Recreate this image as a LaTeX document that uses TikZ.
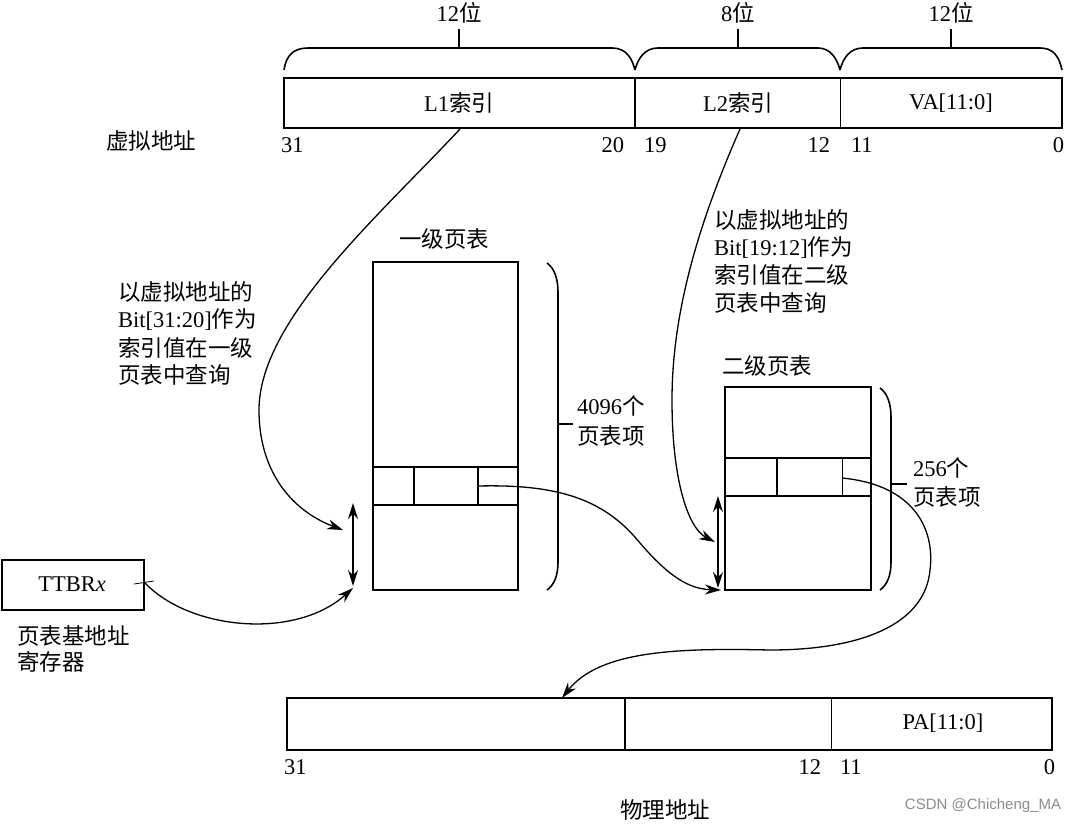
\documentclass[tikz,border=0pt]{standalone}
\usepackage{fontspec}
\setmainfont{Liberation Serif}
\newfontfamily\cjkfont{Noto Sans CJK SC}
\newfontfamily\wmfont{Liberation Sans}
\newcommand\zhtxt[1]{{\cjkfont #1}}
\usetikzlibrary{arrows.meta}
\begin{document}
\begin{tikzpicture}[x=1pt,y=-1pt,
  every node/.style={inner sep=0pt, outer sep=0pt, font=\fontsize{22.5}{27}\selectfont},
  box/.style={draw, line width=1.6pt, anchor=north west},
  ln/.style={line width=1.6pt},
  hair/.style={line width=0.8pt},
  conn/.style={line width=1.3pt, -{Stealth[length=16pt,width=10pt]}},
  dconn/.style={line width=1.3pt, {Stealth[length=16pt,width=10pt]}-{Stealth[length=16pt,width=10pt]}},
  lw/.style={anchor=west},
  le/.style={anchor=east}
]
\useasboundingbox (0,0) rectangle (1065,827);

% ---------- virtual address ----------
\node[box, minimum width=778pt, minimum height=50pt] (va) at (284,78) {};
\draw[ln] (635,78) -- (635,128);
\draw[hair] (840,78) -- (840,128);
\node (l1) at (459,103) {L1\zhtxt{索引}};
\node (l2) at (738,103) {L2\zhtxt{索引}};
\node (vaoff) at (951,103) {VA[11:0]};
\node[lw] (b31) at (281,145) {31};
\node[le] (b20) at (624,145) {20};
\node[lw] (b19) at (644,145) {19};
\node[le] (b12) at (830,145) {12};
\node[lw] (b11) at (851,145) {11};
\node[le] (b0) at (1064,145) {0};
\node (vlabel) at (151,141) {\zhtxt{虚拟地址}};

% braces
\draw[ln] (284,70) .. controls (286,56) and (293,48) .. (308,48) -- (612,48) .. controls (626,48) and (632,58) .. (635,70);
\draw[ln] (459,48) -- (459,29);
\draw[ln] (635,70) .. controls (638,58) and (645,48) .. (658,48) -- (818,48) .. controls (830,48) and (837,58) .. (840,70);
\draw[ln] (738,48) -- (738,29);
\draw[ln] (840,70) .. controls (843,58) and (850,48) .. (863,48) -- (1040,48) .. controls (1053,48) and (1059,56) .. (1062,70);
\draw[ln] (951,48) -- (951,29);
\node (w1) at (459,13) {12\zhtxt{位}};
\node (w2) at (738,13) {8\zhtxt{位}};
\node (w3) at (951,13) {12\zhtxt{位}};

% ---------- level 1 table ----------
\node (t1title) at (444,239) {\zhtxt{一级页表}};
\node[box, minimum width=145pt, minimum height=328pt] (t1) at (373,262) {};
\draw[ln] (373,467) -- (518,467);
\draw[ln] (373,505) -- (518,505);
\draw[ln] (414,467) -- (414,505);
\draw[ln] (478,467) -- (478,505);
\coordinate (e1) at (478,486);
\draw[ln] (547,263) .. controls (554,268) and (558,278) .. (558,292) -- (558,562) .. controls (558,576) and (554,585) .. (547,590);
\draw[ln] (558,424) -- (573,424);
\node[lw] (n4096) at (577,406) {4096\zhtxt{个}};
\node[lw] (n4096b) at (577,436) {\zhtxt{页表项}};
\coordinate (d1t) at (353,503);
\coordinate (d1b) at (353,586);
\draw[dconn] (d1t) -- (d1b);

% ---------- level 2 table ----------
\node (t2title) at (767,366) {\zhtxt{二级页表}};
\node[box, minimum width=146pt, minimum height=203pt] (t2) at (725,387) {};
\draw[ln] (725,458) -- (871,458);
\draw[ln] (725,496) -- (871,496);
\draw[ln] (777,458) -- (777,496);
\draw[hair] (842,458) -- (842,496);
\coordinate (e2) at (842,478);
\draw[ln] (880,388) .. controls (887,393) and (891,403) .. (891,417) -- (891,562) .. controls (891,576) and (887,585) .. (880,590);
\draw[ln] (891,484) -- (907,484);
\node[lw] (n256) at (913,468) {256\zhtxt{个}};
\node[lw] (n256b) at (913,497) {\zhtxt{页表项}};
\coordinate (d2t) at (718,496);
\coordinate (d2b) at (718,588);
\draw[dconn] (d2t) -- (d2b);

% ---------- annotations ----------
\node[lw] (a1) at (118,292) {\zhtxt{以虚拟地址的}};
\node[lw] (a2) at (118,320) {Bit[31:20]\zhtxt{作为}};
\node[lw] (a3) at (118,348) {\zhtxt{索引值在一级}};
\node[lw] (a4) at (118,375) {\zhtxt{页表中查询}};
\node[lw] (c1) at (714,220) {\zhtxt{以虚拟地址的}};
\node[lw] (c2) at (714,248) {Bit[19:12]\zhtxt{作为}};
\node[lw] (c3) at (714,275) {\zhtxt{索引值在二级}};
\node[lw] (c4) at (714,303) {\zhtxt{页表中查询}};

% ---------- TTBRx ----------
\node[box, minimum width=142pt, minimum height=50pt] (ttbr) at (2,560) {};
\node (ttbrtext) at (72,584) {TTBR\textit{x}};
\node[lw] (r1) at (17,636) {\zhtxt{页表基地址}};
\node[lw] (r2) at (17,662) {\zhtxt{寄存器}};

% ---------- physical address ----------
\node[box, minimum width=765pt, minimum height=52pt] (pa) at (287,698) {};
\draw[ln] (625,698) -- (625,750);
\draw[hair] (831,698) -- (831,750);
\node (paoff) at (943,723) {PA[11:0]};
\node[lw] (p31) at (284,767) {31};
\node[le] (p12) at (821,767) {12};
\node[lw] (p11) at (840,767) {11};
\node[le] (p0) at (1055,767) {0};
\node (plabel) at (665,810) {\zhtxt{物理地址}};
\node[font=\wmfont\fontsize{15}{18}\selectfont, text=black!45] (wm) at (983,806) {CSDN @Chicheng\_MA};

% ---------- connectors ----------
\coordinate (s1) at (460,129);
\coordinate (s2) at (740,129);
\coordinate (t1in) at (343,530);
\coordinate (t2in) at (715,542);
\coordinate (t2base) at (721,590);
\coordinate (t1base) at (353,588);
\coordinate (pain) at (562,698);
\coordinate (ttbrout) at (145,583);

\draw[conn] (s1) .. controls (380,215) and (259,320) .. (259,410) .. controls (259,475) and (295,512) .. (t1in);
\draw[conn] (s2) .. controls (700,220) and (672,310) .. (672,400) .. controls (672,480) and (688,528) .. (t2in);
\draw[conn] (e1) .. controls (560,484) and (605,500) .. (640,543) .. controls (670,578) and (690,589) .. (t2base);
\draw[conn] (e2) .. controls (915,485) and (935,530) .. (930,570) .. controls (925,625) and (860,650) .. (770,650) .. controls (680,648) and (600,650) .. (pain);
\draw[conn] (ttbrout) .. controls (190,630) and (295,640) .. (t1base);
\draw[hair] (134,584) -- (154,581);
\end{tikzpicture}
\end{document}
